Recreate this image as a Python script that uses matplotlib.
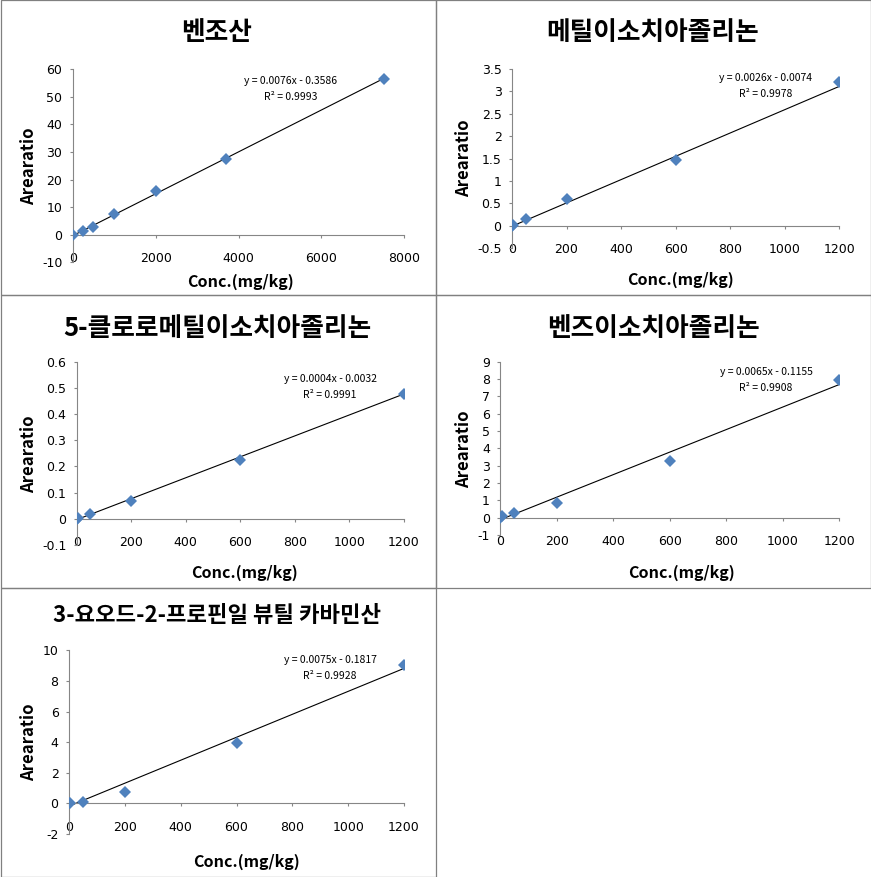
import matplotlib.pyplot as plt
from matplotlib.patches import Rectangle
from matplotlib.ticker import FuncFormatter
import numpy as np

plt.rcParams['font.family'] = ['Noto Sans CJK KR', 'DejaVu Sans']

W, H = 871, 877

titles = ["벤조산", "메틸이소치아졸리논", "5-클로로메틸이소치아졸리논",
          "벤즈이소치아졸리논", "3-요오드-2-프로핀일 뷰틸 카바민산"]
title_sizes = [18.5, 18.5, 18.5, 18.5, 16]

conc1 = [0, 250, 500, 1000, 2000, 3700, 7500]
conc = [0, 5, 50, 200, 600, 1200]

area1 = [0.0, 1.2, 2.8, 7.4, 15.8, 27.3, 56.6]
area2 = [0.0, 0.02, 0.16, 0.59, 1.46, 3.22]
area3 = [0.0, 0.002, 0.017, 0.069, 0.224, 0.476]
area4 = [0.0, 0.08, 0.27, 0.83, 3.29, 7.93]
area5 = [0.0, 0.03, 0.12, 0.76, 3.97, 9.06]

slopes = [0.0076, 0.0026, 0.0004, 0.0065, 0.0075]
intercepts = [-0.3586, -0.0074, -0.0032, -0.1155, -0.1817]
r2 = ["0.9993", "0.9978", "0.9991", "0.9908", "0.9928"]

yticks = [np.arange(-10, 61, 10), np.arange(-0.5, 3.6, 0.5), np.arange(-0.1, 0.61, 0.1),
          np.arange(-1, 10, 1), np.arange(-2, 11, 2)]
xticks = [np.arange(0, 8001, 2000)] + [np.arange(0, 1201, 200)] * 4

xs = [conc1, conc, conc, conc, conc]
ys = [area1, area2, area3, area4, area5]

# layout in pixels: axes box (left, top, right, bottom), cell box, text anchors
ax_px = [(72.7, 69.3, 404.3, 262.3), (512, 69, 839.3, 248.3), (76.7, 361.7, 404, 545),
         (500.3, 361.7, 839.3, 535), (69, 650.3, 404, 834)]
cells = [(0, 0, 436, 295), (436, 0, 871, 295), (0, 295, 436, 588),
         (436, 295, 871, 588), (0, 588, 436, 877)]
title_pos = [(217, 33), (653, 33), (217, 328), (653, 328), (217, 616)]
ylab_pos = [(29, 166), (464, 158), (29, 454), (464, 449), (29, 742)]
xlab_pos = [(240, 282), (680, 280), (245, 573), (681, 573), (246, 862)]
eq_pos = [(291, 81), (766, 78), (330, 379), (766, 372), (330, 660)]

fig = plt.figure(figsize=(W / 100, H / 100), dpi=100)


def fx(x):
    return x / W


def fy(y):
    return 1 - y / H


grey = "#868686"
blue = "#4F81BD"
fmt = FuncFormatter(lambda v, p: f"{round(v, 6):g}")

for i in range(5):
    l, t, r, b = ax_px[i]
    ax = fig.add_axes([fx(l), fy(b), (r - l) / W, (b - t) / H])
    x = np.array(xs[i])
    y = np.array(ys[i])
    ax.plot(x, y, linestyle="none", marker="D", markersize=6,
            color=blue, markeredgewidth=0, zorder=3)
    xl = np.array([0, x.max()])
    ax.plot(xl, slopes[i] * xl + intercepts[i], color="black", linewidth=0.8, zorder=2)

    ax.set_xlim(xticks[i][0], xticks[i][-1])
    ax.set_ylim(yticks[i][0], yticks[i][-1])
    ax.set_xticks(xticks[i])
    ax.set_yticks(yticks[i])
    ax.xaxis.set_major_formatter(fmt)
    ax.yaxis.set_major_formatter(fmt)
    ax.spines["top"].set_visible(False)
    ax.spines["right"].set_visible(False)
    ax.spines["bottom"].set_position(("data", 0))
    for s in ("left", "bottom"):
        ax.spines[s].set_color(grey)
        ax.spines[s].set_linewidth(0.8)
    ax.tick_params(axis="both", direction="out", length=2.5, width=0.8,
                   color=grey, labelsize=9)
    ax.tick_params(axis="x", pad=10)
    ax.tick_params(axis="y", pad=5)
    for lab in ax.get_xticklabels() + ax.get_yticklabels():
        lab.set_fontfamily("DejaVu Sans")
    ax.patch.set_alpha(0)

    fig.text(fx(title_pos[i][0]), fy(title_pos[i][1]), titles[i], ha="center",
             va="center", fontsize=title_sizes[i], fontweight="bold")
    fig.text(fx(ylab_pos[i][0]), fy(ylab_pos[i][1]), "Arearatio", ha="center",
             va="center", rotation=90, fontsize=12, fontweight="bold")
    fig.text(fx(xlab_pos[i][0]), fy(xlab_pos[i][1]), "Conc.(mg/kg)", ha="center",
             va="center", fontsize=11.5, fontweight="bold")
    sign = "-" if intercepts[i] < 0 else "+"
    eq = f"y = {slopes[i]:.4f}x {sign} {abs(intercepts[i]):.4f}"
    fig.text(fx(eq_pos[i][0]), fy(eq_pos[i][1]), eq, ha="center", va="center",
             fontsize=7.5)
    fig.text(fx(eq_pos[i][0]), fy(eq_pos[i][1] + 16), f"R² = {r2[i]}", ha="center",
             va="center", fontsize=7.5)

    cl, ct, cr, cb = cells[i]
    cl = max(cl, 0.5)
    ct = max(ct, 0.5)
    cr = min(cr, W - 0.5)
    cb = min(cb, H - 0.5)
    fig.add_artist(Rectangle((fx(cl), fy(cb)), (cr - cl) / W, (cb - ct) / H,
                             transform=fig.transFigure, fill=False,
                             edgecolor="#808080", linewidth=0.9))

fig.savefig("out.png", dpi=100)
